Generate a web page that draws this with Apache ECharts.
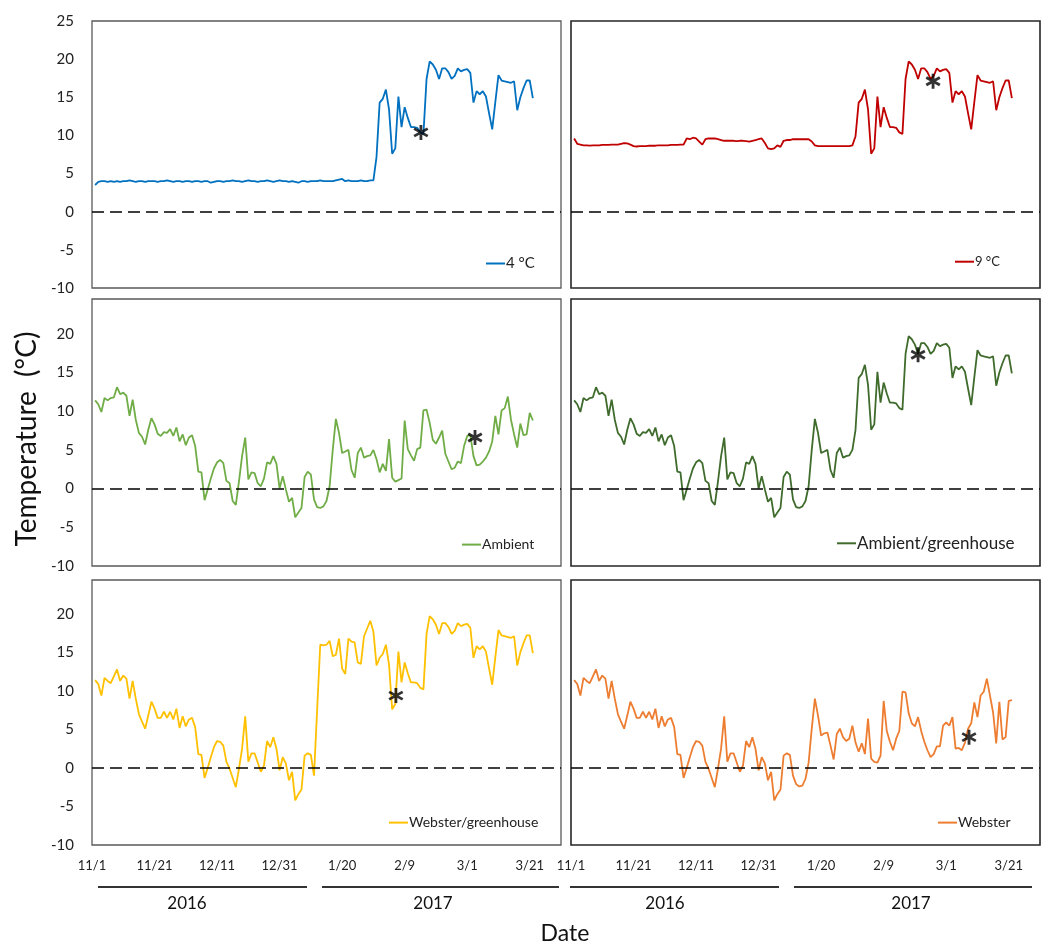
<!DOCTYPE html>
<html><head><meta charset="utf-8">
<script src="https://cdn.jsdelivr.net/npm/echarts/dist/echarts.min.js"></script>
<style>html,body{margin:0;padding:0;background:#fff}#c{width:1041px;height:946px}</style>
</head><body><div id="c"></div>
<script>
// day index 0 = 2016-11-01; data start on day 1
const FIRST_DAY = 1;
const tickLabels = ['11/1','11/21','12/11','12/31','1/20','2/9','3/1','3/21'];
const seriesNames = ['4 \u00B0C','9 \u00B0C','Ambient','Ambient/greenhouse','Webster/greenhouse','Webster'];

// 4 °C chamber, days 1-91
const fourC_chamber = [3.5,3.9,4.0,4.0,3.9,4.0,3.9,4.0,3.9,4.0,
 4.0,4.1,4.0,3.9,4.0,4.0,3.9,4.0,4.0,4.0,
 3.9,4.0,4.0,4.1,4.0,3.9,4.0,4.0,3.9,4.0,
 4.0,3.9,4.0,4.0,3.9,4.0,4.0,3.8,3.9,4.0,
 4.0,3.9,4.0,4.0,4.1,4.0,4.0,3.9,4.0,4.1,
 4.0,4.0,3.9,4.0,4.0,4.1,4.0,3.9,4.0,4.1,
 4.0,4.0,3.9,4.0,3.9,3.8,4.0,4.0,3.9,4.0,
 4.0,4.0,4.1,4.0,4.0,4.0,4.0,4.1,4.2,4.3,
 4.0,4.1,4.0,4.0,4.0,4.1,4.0,4.0,4.1,4.1,7.2];
// 9 °C chamber, days 1-91
const nineC_chamber = [9.6,8.9,8.8,8.7,8.7,8.65,8.7,8.7,8.7,8.75,
 8.75,8.75,8.8,8.8,8.8,8.9,9.0,8.95,8.8,8.6,
 8.55,8.6,8.6,8.6,8.65,8.65,8.65,8.7,8.7,8.7,
 8.7,8.75,8.75,8.75,8.8,8.8,9.6,9.5,9.7,9.6,
 9.2,8.8,9.5,9.6,9.6,9.6,9.5,9.4,9.3,9.3,
 9.3,9.3,9.25,9.3,9.3,9.25,9.2,9.3,9.4,9.5,
 9.6,9.0,8.3,8.2,8.3,8.7,8.5,9.3,9.4,9.4,
 9.5,9.5,9.5,9.5,9.5,9.5,9.2,8.7,8.6,8.6,
 8.6,8.6,8.6,8.6,8.6,8.6,8.6,8.6,8.6,8.7,9.9];
// Ambient, days 1-90
const ambient_early = [11.4,10.9,9.9,11.7,11.4,11.7,11.8,13.1,12.2,12.4,
 12.0,9.4,11.5,8.9,7.2,6.7,5.7,7.6,9.1,8.3,
 7.1,6.8,7.3,7.2,7.7,6.8,7.9,6.1,7.0,5.6,
 6.6,6.9,5.5,2.2,2.1,-1.5,-0.1,1.3,2.6,3.4,
 3.7,3.3,1.0,0.7,-1.6,-2.1,0.9,4.2,6.6,1.2,
 2.1,2.0,0.7,0.3,1.3,3.4,3.2,4.2,3.2,0.0,
 1.6,-0.1,-1.7,-1.2,-3.7,-3.1,-2.5,1.5,2.2,1.8,
 -1.4,-2.4,-2.5,-2.3,-1.6,0.3,5.0,9.0,7.2,4.6,
 4.8,5.0,2.4,1.4,4.6,5.3,4.0,4.2,4.3,5.0];
// Ambient, days 91-141
const ambient_late = [3.8,2.1,3.2,2.3,6.4,1.4,0.9,1.1,1.3,8.8,
 5.1,4.3,3.6,5.1,5.3,10.1,10.2,8.5,6.3,5.8,
 6.6,7.5,4.5,3.5,2.5,2.7,3.5,3.3,5.5,6.8,
 6.9,4.2,3.0,3.1,3.5,4.0,4.8,6.1,9.4,7.0,
 10.1,10.4,11.9,8.9,7.0,5.3,8.4,6.9,7.0,9.8,8.8];
// Ambient/greenhouse, day 91
const ambientGH_day91 = [7.6];
// Webster, days 1-141
const webster = [11.4,10.9,9.4,11.7,11.3,11.0,11.9,12.8,11.3,12.0,
 11.6,9.0,11.3,9.0,7.0,6.0,5.1,6.8,8.6,7.7,
 6.5,6.5,7.3,6.5,7.3,6.3,7.7,5.2,6.7,5.4,
 6.3,6.5,5.3,1.8,1.7,-1.3,0.0,1.4,2.7,3.5,
 3.4,2.9,0.8,-0.1,-1.3,-2.5,-0.1,2.5,6.7,0.8,
 1.9,1.9,0.7,-0.5,0.3,3.5,2.7,4.0,2.5,-0.3,
 1.4,0.6,-1.6,-0.5,-4.2,-3.4,-2.8,1.6,1.9,1.7,
 -1.0,-2.1,-2.4,-2.3,-1.4,0.7,5.1,9.0,6.8,4.2,
 4.5,4.6,2.9,1.1,4.4,5.1,4.0,3.5,3.8,5.5,
 3.3,2.1,3.2,1.8,6.4,1.2,0.8,0.7,1.6,8.7,
 4.8,3.4,2.3,3.8,4.8,9.9,9.8,7.1,5.8,5.4,
 6.6,4.8,3.4,2.3,1.4,1.8,2.8,2.8,5.5,5.9,
 5.5,6.6,2.5,2.6,2.3,3.3,5.1,5.8,8.5,6.6,
 9.4,9.9,11.6,9.4,7.2,3.2,8.6,3.7,4.0,8.7,8.8];
// Webster/greenhouse, days 72-91 (days 1-71 follow Webster)
const websterGH_mid = [7.5,16.0,15.9,16.0,16.5,14.5,14.7,16.8,12.9,12.2,
 16.8,16.4,16.3,13.7,13.5,17.1,18.1,19.1,17.7,13.3];
// greenhouse, days 92-141 (shared by all greenhouse-moved treatments)
const greenhouse = [14.3,14.8,16.0,13.4,7.6,8.3,15.1,11.1,13.7,12.3,
 11.1,11.1,11.0,10.4,10.2,17.4,19.7,19.3,18.6,17.4,
 18.8,18.8,18.3,17.4,17.8,18.8,18.4,18.6,18.7,18.2,
 14.3,15.8,15.4,15.8,15.1,12.9,10.8,14.4,17.9,17.2,
 17.1,17.0,16.9,17.1,13.3,15.0,16.2,17.2,17.2,14.9];
// asterisk annotations [day, °C]
const asterisks = [[105.2,10.4],[115.8,17.1],[122.5,6.6],[111,17.3],[97.2,9.4],[127.3,4.0]];

const panelValues = [
  fourC_chamber.concat(greenhouse),
  nineC_chamber.concat(greenhouse),
  ambient_early.concat(ambient_late),
  ambient_early.concat(ambientGH_day91, greenhouse),
  webster.slice(0, 71).concat(websterGH_mid, greenhouse),
  webster
];

// ---- layout / style ----
const colors = ['#0070C0','#C00000','#70AD47','#3F6B2C','#FFC000','#ED7D31'];
const rects = [[92,21,469,267],[571,21,469,267],[92,299,469,267],[571,299,469,267],[92,580,469,265],[571,580,469,265]];
const yMaxes = [25,25,24.5,24.5,24.4,24.4];
const legendPos = [[486,265,15],[955,263,13],[462,546,14],[837,545,17],[389,824,14],[938,824,14]];
const FONT = 'Lato';
const asteriskPath = 'path://M-1.8,-10L1.8,-10L1.8,10L-1.8,10Z M9.56,3.44L7.76,6.56L-9.56,-3.44L-7.76,-6.56Z M-7.76,6.56L-9.56,3.44L7.76,-6.56L9.56,-3.44Z';

const grids = [], xAxes = [], yAxes = [], series = [], legends = [];
for (let i = 0; i < 6; i++) {
  const [l, t, w, h] = rects[i];
  const left = i % 2 === 0;
  grids.push({left: l, top: t, width: w, height: h, show: true, borderColor: left ? '#5a5a5a' : '#262626',
    borderWidth: left ? 1.3 : 1.6, backgroundColor: 'transparent', containLabel: false, outerBoundsMode: 'none'});
  xAxes.push({type: 'value', gridIndex: i, min: 0, max: 150, interval: 20,
    axisLine: {show: false}, axisTick: {show: false}, splitLine: {show: false},
    axisLabel: {show: i >= 4, margin: 14, fontFamily: FONT, fontSize: 13, color: '#222',
      formatter: v => (v % 20 === 0 && tickLabels[v / 20] !== undefined) ? tickLabels[v / 20] : ''}});
  yAxes.push({type: 'value', gridIndex: i, min: -10, max: yMaxes[i], interval: 5,
    axisLine: {show: false}, axisTick: {show: false}, splitLine: {show: false},
    axisLabel: {show: left, margin: 18, fontFamily: FONT, fontSize: 15, color: '#222',
      formatter: v => (Math.abs(v % 5) < 1e-9 ? String(v) : '')}});
  series.push({type: 'line', name: seriesNames[i], xAxisIndex: i, yAxisIndex: i,
    data: panelValues[i].map((v, k) => [FIRST_DAY + k, v]),
    showSymbol: false, symbol: 'none', color: colors[i], lineStyle: {color: colors[i], width: 1.8},
    silent: true, animation: false,
    markLine: {silent: true, symbol: ['none','none'], label: {show: false},
      lineStyle: {color: '#000', type: [12, 6], width: 1.6}, data: [{yAxis: 0}], animation: false}});
  series.push({type: 'scatter', name: 'ast' + i, xAxisIndex: i, yAxisIndex: i, data: [asterisks[i]],
    symbol: asteriskPath, symbolSize: 15, itemStyle: {color: '#000'}, silent: true, animation: false, z: 5});
  const [lx, ly, fs] = legendPos[i];
  legends.push({data: [seriesNames[i]], left: lx, top: ly - fs * 0.6, padding: 0, itemWidth: 19, itemHeight: 2,
    icon: 'rect', selectedMode: false, textStyle: {fontFamily: FONT, fontSize: fs, color: '#222', padding: [0, 0, 0, -4]}});
}

const txt = (text, x, y, size, rot) => ({type: 'text', x: x, y: y, rotation: rot || 0, silent: true,
  style: {text: text, font: size + 'px ' + FONT, fill: '#111', textAlign: 'center', textVerticalAlign: 'middle', align: 'center', verticalAlign: 'middle'}});
const ln = (x1, x2, y) => ({type: 'line', silent: true, shape: {x1: x1, y1: y, x2: x2, y2: y}, style: {stroke: '#333', lineWidth: 2}});

const graphic = [
  txt('Temperature  (\u00B0C)', 27, 439, 28, Math.PI / 2),
  txt('Date', 565, 934, 23),
  ln(98, 307, 887), ln(322, 559, 887), ln(570, 779, 887), ln(794, 1032, 887),
  txt('2016', 187, 904, 17), txt('2017', 433, 904, 17),
  txt('2016', 665, 904, 17), txt('2017', 911, 904, 17)
];

const chart = echarts.init(document.getElementById('c'), null, {renderer: 'canvas'});
chart.setOption({animation: false, backgroundColor: '#fff', textStyle: {fontFamily: FONT},
  grid: grids, xAxis: xAxes, yAxis: yAxes, series: series, legend: legends, graphic: graphic});
</script></body></html>
